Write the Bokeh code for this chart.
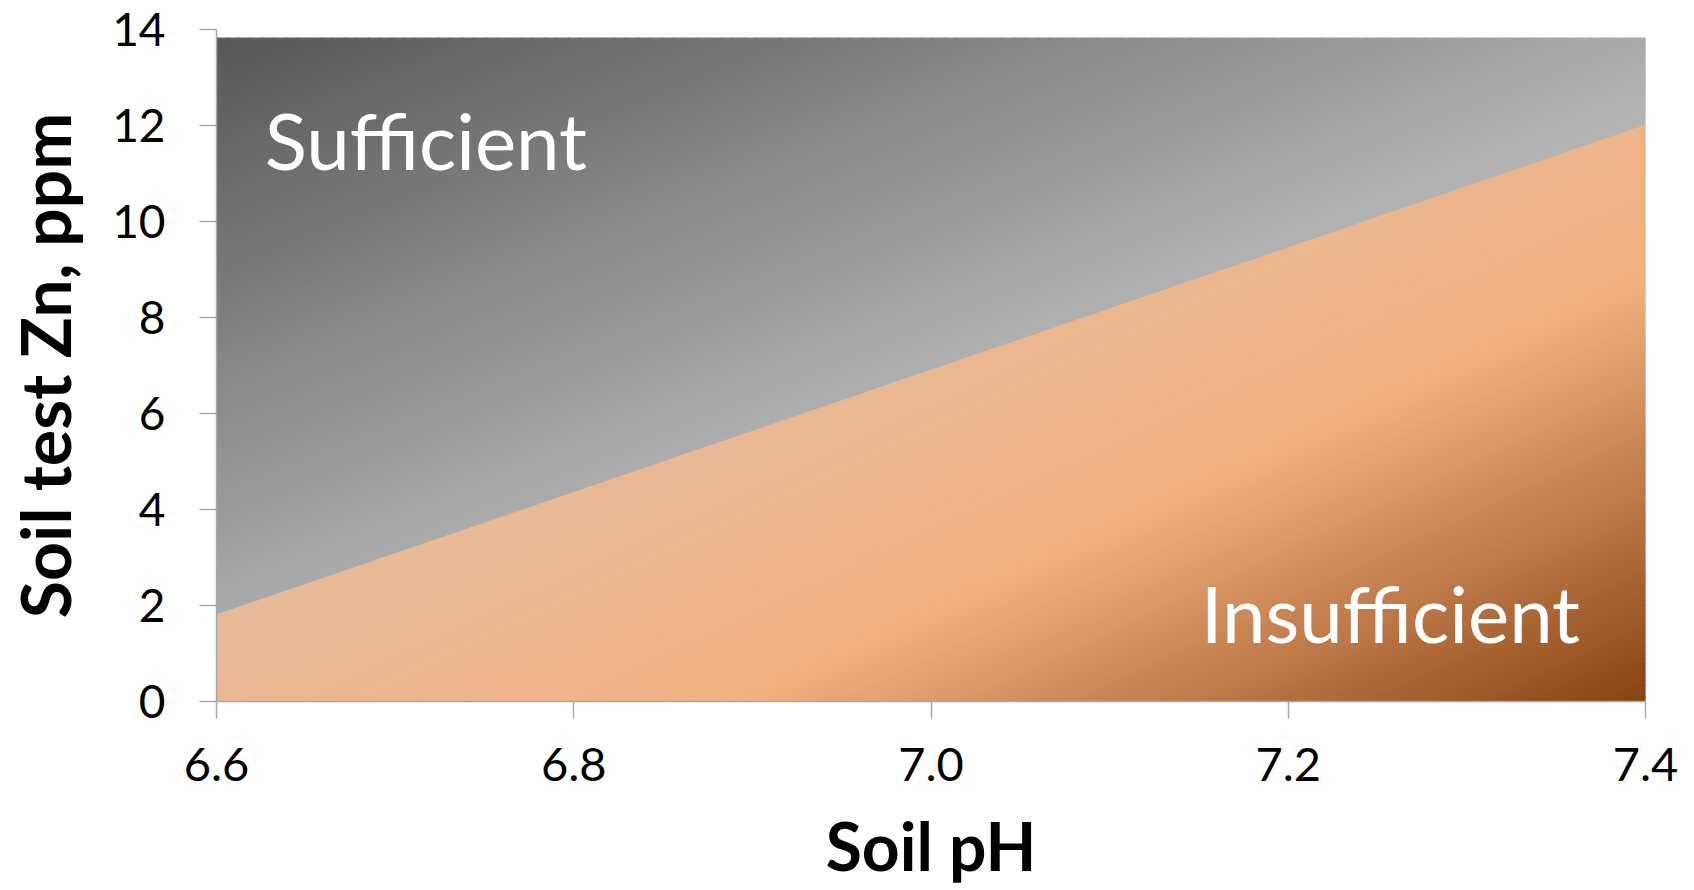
import numpy as np
from bokeh.plotting import figure
from bokeh.models import Range1d, Label, FixedTicker, NumeralTickFormatter, ColumnDataSource
from bokeh.embed import file_html
from bokeh.resources import INLINE

# ---------------- data ----------------
soil_ph = [6.6, 7.4]              # x extent of the zones (soil pH)
zn_boundary = [1.8, 12.0]         # critical soil test Zn along the pH range (ppm)
zn_top = 13.82                    # top of the "Sufficient" zone
zn_floor = 0.0                    # bottom of the "Insufficient" zone
x_ticks = [6.6, 6.8, 7.0, 7.2, 7.4]
y_ticks = [0, 2, 4, 6, 8, 10, 12, 14]
zone_names = ["Sufficient", "Insufficient"]
zone_label_ph = [6.627, 7.151]
zone_label_zn = [11.69, 1.84]
x_title = "Soil pH"
y_title = "Soil test Zn, ppm"

# ---------------- layout ----------------
W, H = 1694, 890
FL, FT, FW, FH = 216, 29, 1429, 672
XR = (6.6, 7.4)
YR = (0.0, 14.0)

p = figure(width=W, height=H, output_backend="svg", toolbar_location=None,
           x_range=Range1d(*XR), y_range=Range1d(*YR),
           min_border_left=FL, min_border_top=FT,
           min_border_right=W - FL - FW, min_border_bottom=H - FT - FH)
p.outline_line_color = None
p.grid.visible = False
p.background_fill_color = "white"
p.border_fill_color = "white"


def to_px(x, y):
    X = FL + (x - XR[0]) / (XR[1] - XR[0]) * FW
    Y = FT + (YR[1] - y) / (YR[1] - YR[0]) * FH
    return X, Y


def clip_half(poly, g):
    out = []
    n = len(poly)
    for i in range(n):
        P, Q = poly[i], poly[(i + 1) % n]
        gp, gq = g(*P), g(*Q)
        if gp >= 0:
            out.append(P)
        if (gp >= 0) != (gq >= 0):
            t = gp / (gp - gq)
            out.append((P[0] + t * (Q[0] - P[0]), P[1] + t * (Q[1] - P[1])))
    return out


def bands(poly, f, color_fn, n):
    vals = [f(*pt) for pt in poly]
    lo, hi = min(vals), max(vals)
    edges = np.linspace(lo, hi, n + 1)
    xs, ys, cs = [], [], []
    for a, b in zip(edges[:-1], edges[1:]):
        q = clip_half(poly, lambda x, y, a=a: f(x, y) - a)
        if len(q) < 3:
            continue
        q = clip_half(q, lambda x, y, b=b: b - f(x, y))
        if len(q) < 3:
            continue
        xs.append([pt[0] for pt in q])
        ys.append([pt[1] for pt in q])
        cs.append(color_fn((a + b) / 2))
    return xs, ys, cs


def hexc(r, g, b):
    return "#%02x%02x%02x" % (int(round(r)), int(round(g)), int(round(b)))


# Sufficient zone (grey, diagonal gradient)
gray_poly = [(soil_ph[0], zn_boundary[0]), (soil_ph[0], zn_top),
             (soil_ph[1], zn_top), (soil_ph[1], zn_boundary[1])]


def gray_t(x, y):
    u = (x - soil_ph[0]) / (soil_ph[1] - soil_ph[0])
    v = (zn_top - y) / (zn_top - zn_boundary[0])
    return (u + v) / 2


def gray_color(t):
    c = min(255, 87 + 164 * t)
    return hexc(c, c, c)


# Insufficient zone (peach to brown gradient)
orange_poly = [(soil_ph[0], zn_floor), (soil_ph[0], zn_boundary[0]),
               (soil_ph[1], zn_boundary[1]), (soil_ph[1], zn_floor)]


def orange_s(x, y):
    X, Y = to_px(x, y)
    return 0.9256 * (390 * X + 830 * Y) / 917


o_stops = [560, 880, 1240]
o_cols = [(229, 188, 156), (242, 176, 128), (136, 66, 16)]


def orange_color(s):
    rgb = [np.interp(s, o_stops, [c[k] for c in o_cols]) for k in range(3)]
    return hexc(*rgb)


for poly, f, cf, n in [(gray_poly, gray_t, gray_color, 140),
                       (orange_poly, orange_s, orange_color, 180)]:
    xs, ys, cs = bands(poly, f, cf, n)
    src = ColumnDataSource(dict(xs=xs, ys=ys, c=cs))
    p.patches("xs", "ys", source=src, fill_color="c", line_color="c", line_width=1.2)

# Zone labels
for name, lx, ly in zip(zone_names, zone_label_ph, zone_label_zn):
    p.add_layout(Label(x=lx, y=ly, text=name, text_color="white",
                       text_font="Lato", text_font_size="78px",
                       text_baseline="alphabetic", text_align="left"))

# Axes
for ax in (p.xaxis[0], p.yaxis[0]):
    ax.axis_line_color = "#a6a6a6"
    ax.axis_line_width = 1.5
    ax.major_tick_line_color = "#a6a6a6"
    ax.major_tick_line_width = 1.5
    ax.major_tick_out = 17
    ax.major_tick_in = 0
    ax.minor_tick_out = 0
    ax.minor_tick_in = 0
    ax.major_label_text_font = "Lato"
    ax.major_label_text_font_size = "46px"
    ax.major_label_text_color = "black"
    ax.axis_label_text_font = "Lato"
    ax.axis_label_text_font_style = "bold"
    ax.axis_label_text_font_size = "68px"
    ax.axis_label_text_color = "black"

p.xaxis.ticker = FixedTicker(ticks=x_ticks)
p.xaxis.formatter = NumeralTickFormatter(format="0.0")
p.yaxis.ticker = FixedTicker(ticks=y_ticks)
p.yaxis.formatter = NumeralTickFormatter(format="0")
p.xaxis.axis_label = x_title
p.yaxis.axis_label = y_title
p.xaxis.major_label_text_font_size = "47px"
p.xaxis.axis_label_text_font_size = "66px"
p.xaxis.major_label_standoff = 29
p.xaxis.axis_label_standoff = 22
p.yaxis.major_label_standoff = 34
p.yaxis.axis_label_standoff = 24

open("out.html", "w").write(file_html(p, INLINE))
